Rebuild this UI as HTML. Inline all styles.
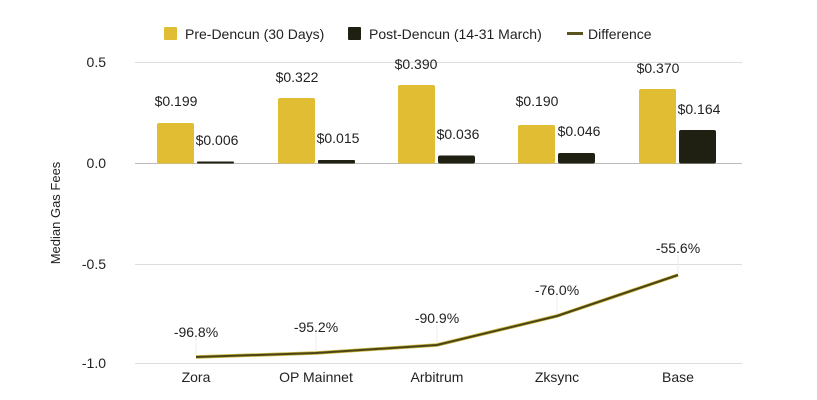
<!DOCTYPE html>
<html><head><style>body{margin:0;background:#fff}svg{display:block}text{font-family:"Liberation Sans",Arial,sans-serif;fill:#222}</style></head>
<body>
<svg width="817" height="400" xmlns="http://www.w3.org/2000/svg">
<g font-size="14">
<rect x="164" y="27" width="13" height="13" fill="#e0bd33" rx="1"/><text x="185" y="39" fill="#333">Pre-Dencun (30 Days)</text>
<rect x="348" y="27" width="13" height="13" fill="#1f1f12" rx="1"/><text x="369" y="39">Post-Dencun (14-31 March)</text>
<rect x="567" y="32" width="16" height="3" fill="#5a5320"/><text x="588" y="39">Difference</text>
</g>
<g stroke="#ddd" stroke-width="1">
<line x1="135" y1="62.5" x2="742" y2="62.5"/>
<line x1="135" y1="264.5" x2="742" y2="264.5"/>
<line x1="135" y1="363.5" x2="742" y2="363.5"/>
</g>
<line x1="135" y1="163.5" x2="742" y2="163.5" stroke="#bbb"/>
<g font-size="14" text-anchor="end">
<text x="106" y="67">0.5</text><text x="106" y="168">0.0</text><text x="106" y="269">-0.5</text><text x="106" y="368">-1.0</text>
</g>
<text transform="translate(60,213) rotate(-90)" text-anchor="middle" font-size="13">Median Gas Fees</text>
<g fill="#e0bd33">
<rect x="157" y="123" width="37" height="40.5" rx="2"/>
<rect x="278" y="98" width="37" height="65.5" rx="2"/>
<rect x="398" y="85" width="37" height="78.5" rx="2"/>
<rect x="518" y="125" width="37" height="38.5" rx="2"/>
<rect x="639" y="89" width="37" height="74.5" rx="2"/>
</g>
<g fill="#1f1f12">
<rect x="197" y="161.5" width="37" height="2" rx="1"/>
<rect x="318" y="160" width="37" height="3.5" rx="1"/>
<rect x="438" y="155.5" width="37" height="8" rx="2"/>
<rect x="558" y="153" width="37" height="10.5" rx="2"/>
<rect x="679" y="130" width="37" height="33.5" rx="2"/>
</g>
<g font-size="14" text-anchor="middle">
<text x="176" y="106">$0.199</text><text x="217" y="145">$0.006</text>
<text x="297" y="82">$0.322</text><text x="338" y="143">$0.015</text>
<text x="416" y="69">$0.390</text><text x="458" y="139">$0.036</text>
<text x="537" y="106">$0.190</text><text x="579" y="136">$0.046</text>
<text x="658" y="73">$0.370</text><text x="699" y="114">$0.164</text>
</g>
<g stroke="#eee"><line x1="196" y1="337" x2="196" y2="356"/><line x1="316" y1="333" x2="316" y2="352"/><line x1="437" y1="325" x2="437" y2="344"/><line x1="557" y1="296" x2="557" y2="314"/><line x1="678" y1="255" x2="678" y2="273"/></g>
<polyline points="196,357 316,353 437,345 557,316 678,275" fill="none" stroke="#c9b53a" stroke-width="3.5"/>
<polyline points="196,357 316,353 437,345 557,316 678,275" fill="none" stroke="#4a4418" stroke-width="2"/>
<g font-size="14" text-anchor="middle">
<text x="196" y="337">-96.8%</text><text x="316" y="332">-95.2%</text><text x="437" y="323">-90.9%</text><text x="557" y="295">-76.0%</text><text x="678" y="253">-55.6%</text>
</g>
<g font-size="14" text-anchor="middle">
<text x="196" y="382">Zora</text><text x="316" y="382">OP Mainnet</text><text x="437" y="382">Arbitrum</text><text x="557" y="382">Zksync</text><text x="678" y="382">Base</text>
</g>
</svg>
</body></html>
